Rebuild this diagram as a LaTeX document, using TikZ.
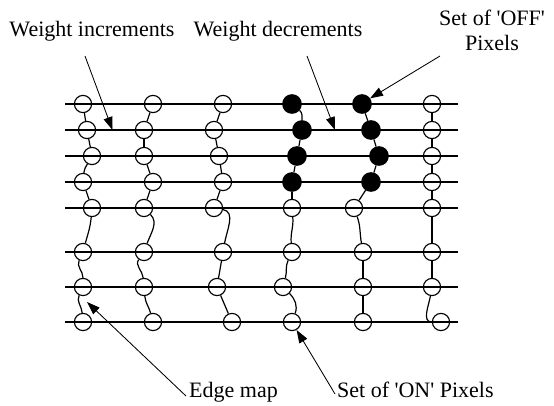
\documentclass[tikz,border=0pt]{standalone}
\usepackage{fontspec}
\setmainfont{Liberation Serif}
\usetikzlibrary{arrows.meta}
\tikzset{
  pix/.style={circle, draw, line width=1.15pt, minimum size=17.2pt, inner sep=0pt},
  offpix/.style={circle, draw, fill=black, line width=1.15pt, minimum size=18.5pt, inner sep=0pt},
  hline/.style={line width=1.5pt},
  link/.style={line width=1.2pt},
  lbl/.style={font=\fontsize{22}{25}\selectfont, inner sep=0pt},
  ptr/.style={line width=0.85pt, -{Triangle[length=13pt,width=9pt]}},
}
\begin{document}
\begin{tikzpicture}[x=1pt,y=1pt]
\useasboundingbox (0,0) rectangle (554,-406);
% horizontal lines
\foreach \r/\yy in {1/104,2/130,3/156,4/182,5/208,6/252,7/287,8/322}{
  \coordinate (L\r) at (65,-\yy);
  \coordinate (R\r) at (458,-\yy);
  \draw[hline] (L\r) -- (R\r);
}
% pixels
\foreach \c/\xs in {1/{83,87,92,83,92,83,83,83},2/{153,144,144,153,144,144,144,153},3/{223,214,219,223,214,223,217,232},4/{292,302,297,292,292,292,283,292},5/{362,371,379,371,354,363,363,363},6/{432,432,432,432,432,432,432,441}}{
  \foreach \x [count=\r] in \xs {
    \pgfmathsetmacro\yy{{104,130,156,182,208,252,287,322}[\r-1]}
    \pgfmathtruncatemacro\isoff{((\c==4)||(\c==5))&&(\r<5)}
    \ifnum\isoff=1
      \node[offpix] (c\c\r) at (\x,-\yy) {};
    \else
      \node[pix] (c\c\r) at (\x,-\yy) {};
    \fi
  }
}
% column 1
\draw[link] (c11) -- (c12);
\draw[link] (c12) -- (c13);
\draw[link] (c13) to[out=-120,in=85] (c14);
\draw[link] (c14) -- (c15);
\draw[link] (c15) to[out=-95,in=75] (c16);
\draw[link] (c16) to[out=-115,in=90] (c17);
\draw[link] (c17) to[out=-115,in=95] (c18);
% column 2
\draw[link] (c21) -- (c22);
\draw[link] (c22) -- (c23);
\draw[link] (c23) -- (c24);
\draw[link] (c24) -- (c25);
\draw[link] (c25) to[out=-45,in=70] (c26);
\draw[link] (c26) to[out=-125,in=95] (c27);
\draw[link] (c27) to[out=-85,in=105] (c28);
% column 3
\draw[link] (c31) -- (c32);
\draw[link] (c32) -- (c33);
\draw[link] (c33) -- (c34);
\draw[link] (c34) -- (c35);
\draw[link] (c35) to[out=-10,in=80] (c36);
\draw[link] (c36) -- (c37);
\draw[link] (c37) -- (c38);
% column 4
\draw[link] (c41) to[out=-40,in=90] (c42);
\draw[link] (c42) -- (c43);
\draw[link] (c43) -- (c44);
\draw[link] (c44) -- (c45);
\draw[link] (c45) to[out=-85,in=95] (c46);
\draw[link] (c46) to[out=-115,in=75] (c47);
\draw[link] (c47) to[out=-45,in=70] (c48);
% column 5
\draw[link] (c51) -- (c52);
\draw[link] (c52) -- (c53);
\draw[link] (c53) -- (c54);
\draw[link] (c54) -- (c55);
\draw[link] (c55) to[out=-70,in=100] (c56);
\draw[link] (c56) -- (c57);
\draw[link] (c57) -- (c58);
% column 6
\draw[link] (c61) -- (c62);
\draw[link] (c62) -- (c63);
\draw[link] (c63) -- (c64);
\draw[link] (c64) -- (c65);
\draw[link] (c65) -- (c66);
\draw[link] (c66) -- (c67);
\draw[link] (c67) to[out=-100,in=180] (c68);
% labels
\node[lbl, anchor=base] (winc) at (92,-37) {Weight increments};
\node[lbl, anchor=base] (wdec) at (278,-37) {Weight decrements};
\node[lbl, anchor=base, align=center] (off) at (492,-51) {Set of \textquotesingle OFF\textquotesingle\\Pixels};
\node[lbl, anchor=base west] (edge) at (189,-397) {Edge map};
\node[lbl, anchor=base west] (on) at (337,-397) {Set of \textquotesingle ON\textquotesingle{} Pixels};
% pointers
\coordinate (incS) at (85,-56);
\coordinate (incT) at (112.5,-130);
\coordinate (decS) at (307,-56);
\coordinate (decT) at (335,-130);
\coordinate (offS) at (440,-56);
\coordinate (edgeS) at (186,-396);
\coordinate (edgeT) at (87,-302);
\coordinate (onS) at (335,-394);
\draw[ptr] (incS) -- (incT);
\draw[ptr] (decS) -- (decT);
\draw[ptr] (offS) -- (c51.35);
\draw[ptr] (edgeS) -- (edgeT);
\draw[ptr] (onS) -- (c48.-60);
\end{tikzpicture}
\end{document}
